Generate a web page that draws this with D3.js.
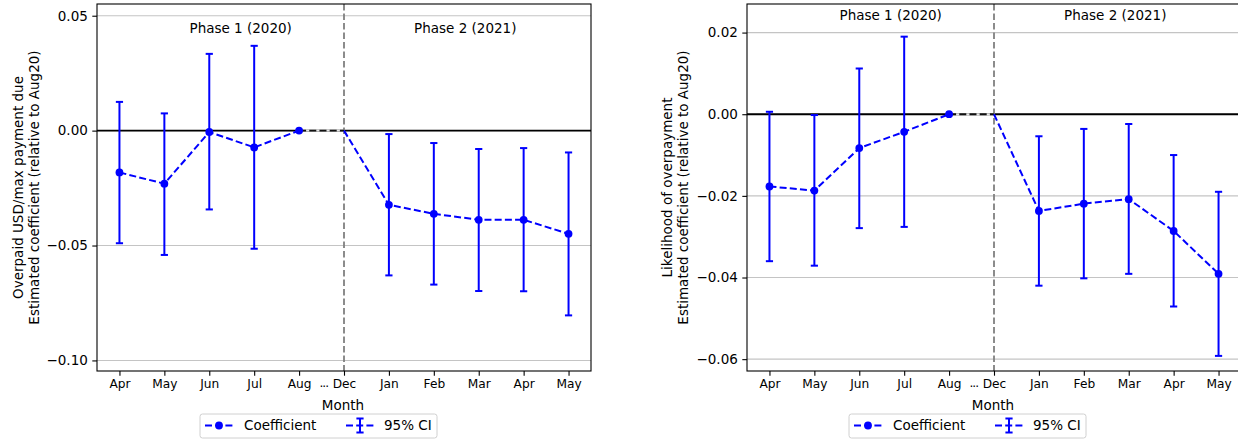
<!DOCTYPE html>
<html>
<head>
<meta charset="utf-8">
<script src="https://cdn.jsdelivr.net/npm/d3@7"></script>
<style>
  html, body { margin: 0; padding: 0; background: #fff; }
  svg { display: block; font-family: "DejaVu Sans", sans-serif; }
</style>
</head>
<body>
<svg id="chart" width="1238" height="442"></svg>
<script>
// ---------------- data ----------------
const months = ["Apr", "May", "Jun", "Jul", "Aug", "Dec", "Jan", "Feb", "Mar", "Apr", "May"];
const phase1Idx = [0, 1, 2, 3, 4];
const decIdx = 5;
const phase2Idx = [6, 7, 8, 9, 10];
const phaseLabels = ["Phase 1 (2020)", "Phase 2 (2021)"];
const phaseLabelX = [2.7, 7.7];

// Left panel: Overpaid USD / max payment due
const leftYLabel = ["Overpaid USD/max payment due", "Estimated coefficient (relative to Aug20)"];
const leftTicks = [0.05, 0.00, -0.05, -0.10];
const leftCoef1 = [-0.0182, -0.0231, -0.0006, -0.0073, 0.0];
const leftLow1  = [-0.0490, -0.0541, -0.0343, -0.0514];
const leftHigh1 = [0.0125, 0.0075, 0.0334, 0.0369];
const leftCoef2 = [-0.0323, -0.0362, -0.0388, -0.0388, -0.0449];
const leftLow2  = [-0.0630, -0.0670, -0.0698, -0.0699, -0.0804];
const leftHigh2 = [-0.0015, -0.0054, -0.0080, -0.0076, -0.0095];
const leftPhaseY = 0.0423;

// Right panel: Likelihood of overpayment
const rightYLabel = ["Likelihood of overpayment", "Estimated coefficient (relative to Aug20)"];
const rightTicks = [0.02, 0.00, -0.02, -0.04, -0.06];
const rightCoef1 = [-0.0177, -0.0187, -0.0083, -0.0043, 0.0];
const rightLow1  = [-0.0360, -0.0371, -0.0279, -0.0276];
const rightHigh1 = [0.0006, -0.0002, 0.0112, 0.0190];
const rightCoef2 = [-0.0237, -0.0219, -0.0208, -0.0286, -0.0391];
const rightLow2  = [-0.0420, -0.0402, -0.0391, -0.0471, -0.0592];
const rightHigh2 = [-0.0054, -0.0036, -0.0024, -0.0100, -0.0190];
const rightPhaseY = 0.0231;

const legendLabels = ["Coefficient", "95% CI"];

// ---------------- drawing ----------------
const svg = d3.select("#chart");
const BLUE = "#0000ff";
const XTICK_FS = 12.2, YTICK_FS = 13.5, LABEL_FS = 13.5;

function panel(opts) {
  const { x0, x1, y0, y1, yDomain, ticks, ylab, ylabX, coef1, low1, high1, coef2, low2, high2, phaseY, legendX } = opts;
  const g = svg.append("g");
  const x = d3.scaleLinear().domain([-0.5, months.length - 0.5]).range([x0, x1]);
  const y = d3.scaleLinear().domain(yDomain).range([y1, y0]);

  // grid
  g.append("g").selectAll("line").data(ticks).join("line")
    .attr("x1", x0).attr("x2", x1)
    .attr("y1", d => y(d)).attr("y2", d => y(d))
    .attr("stroke", "#c4c4c4").attr("stroke-width", 1.1);

  // zero line
  g.append("line").attr("x1", x0).attr("x2", x1).attr("y1", y(0)).attr("y2", y(0))
    .attr("stroke", "#000").attr("stroke-width", 1.9);

  // vertical dashed separator at Dec
  g.append("line").attr("x1", x(decIdx)).attr("x2", x(decIdx)).attr("y1", y0).attr("y2", y1)
    .attr("stroke", "#808080").attr("stroke-width", 1.8).attr("stroke-dasharray", "6.5,3");

  // Aug -> Dec connector (black dashes, light gaps)
  g.append("line").attr("x1", x(4)).attr("x2", x(decIdx)).attr("y1", y(0)).attr("y2", y(0))
    .attr("stroke", "#e6e6e6").attr("stroke-width", 1.9);
  g.append("line").attr("x1", x(4)).attr("x2", x(decIdx)).attr("y1", y(0)).attr("y2", y(0))
    .attr("stroke", "#111").attr("stroke-width", 1.9).attr("stroke-dasharray", "7,3.2");

  // error bars
  const eb = [];
  low1.forEach((v, i) => eb.push({ i: phase1Idx[i], lo: v, hi: high1[i] }));
  low2.forEach((v, i) => eb.push({ i: phase2Idx[i], lo: v, hi: high2[i] }));
  const ebg = g.append("g").attr("stroke", BLUE).attr("stroke-width", 2);
  ebg.selectAll("line.v").data(eb).join("line").attr("class", "v")
    .attr("x1", d => x(d.i)).attr("x2", d => x(d.i)).attr("y1", d => y(d.lo)).attr("y2", d => y(d.hi));
  ebg.selectAll("line.lo").data(eb).join("line").attr("class", "lo")
    .attr("x1", d => x(d.i) - 3.6).attr("x2", d => x(d.i) + 3.6).attr("y1", d => y(d.lo)).attr("y2", d => y(d.lo));
  ebg.selectAll("line.hi").data(eb).join("line").attr("class", "hi")
    .attr("x1", d => x(d.i) - 3.6).attr("x2", d => x(d.i) + 3.6).attr("y1", d => y(d.hi)).attr("y2", d => y(d.hi));

  // coefficient lines
  const line = d3.line().x(d => x(d.i)).y(d => y(d.v));
  const p1 = coef1.map((v, k) => ({ i: phase1Idx[k], v }));
  const p2 = [{ i: decIdx, v: 0 }].concat(coef2.map((v, k) => ({ i: phase2Idx[k], v })));
  [p1, p2].forEach(p => g.append("path").datum(p).attr("d", line)
    .attr("fill", "none").attr("stroke", BLUE).attr("stroke-width", 2).attr("stroke-dasharray", "7,3.2"));
  // markers
  const pts = p1.concat(p2.slice(1));
  g.append("g").selectAll("circle").data(pts).join("circle")
    .attr("cx", d => x(d.i)).attr("cy", d => y(d.v)).attr("r", 3.9).attr("fill", BLUE);

  // phase labels
  g.append("g").selectAll("text").data(phaseLabels).join("text")
    .attr("x", (d, k) => x(phaseLabelX[k])).attr("y", y(phaseY))
    .attr("text-anchor", "middle").attr("font-size", LABEL_FS).text(d => d);

  // spines
  g.append("rect").attr("x", x0).attr("y", y0).attr("width", x1 - x0).attr("height", y1 - y0)
    .attr("fill", "none").attr("stroke", "#000").attr("stroke-width", 1.1);

  // axes
  const xAxis = d3.axisBottom(x).tickValues(d3.range(months.length))
    .tickFormat(i => months[i]).tickSize(4.7).tickPadding(4);
  const xa = g.append("g").attr("transform", `translate(0,${y1})`).call(xAxis);
  const yAxis = d3.axisLeft(y).tickValues(ticks).tickFormat(d3.format(".2f")).tickSize(4.7).tickPadding(4.5);
  const ya = g.append("g").attr("transform", `translate(${x0},0)`).call(yAxis);
  [[xa, XTICK_FS], [ya, YTICK_FS]].forEach(([a, fs]) => {
    a.select(".domain").remove();
    a.selectAll(".tick line").attr("stroke", "#000").attr("stroke-width", 1.1);
    a.selectAll(".tick text").attr("font-size", fs).attr("font-family", "DejaVu Sans").attr("fill", "#000");
  });
  // ellipsis between Aug and Dec
  g.append("text").attr("x", x(4.55)).attr("y", y1 + 19.5).attr("text-anchor", "middle")
    .attr("font-size", XTICK_FS).attr("letter-spacing", -1).text("\u00B7\u00B7\u00B7");

  // x label
  g.append("text").attr("x", (x0 + x1) / 2 - 1).attr("y", y1 + 38.5).attr("text-anchor", "middle")
    .attr("font-size", LABEL_FS).text("Month");

  // y label (two lines)
  const yc = (y0 + y1) / 2;
  ylab.forEach((t, k) => {
    g.append("text").attr("transform", `translate(${ylabX + k * 16},${yc}) rotate(-90)`)
      .attr("text-anchor", "middle").attr("dominant-baseline", "central")
      .attr("font-size", LABEL_FS).text(t);
  });

  // legend
  const lg = g.append("g").attr("transform", `translate(${legendX},414)`);
  lg.append("rect").attr("x", 0).attr("y", 0).attr("width", 237).attr("height", 24).attr("rx", 2.5)
    .attr("fill", "#fff").attr("stroke", "#d0d0d0").attr("stroke-width", 1);
  const hy = 11.5;
  lg.append("line").attr("x1", 5).attr("x2", 33).attr("y1", hy).attr("y2", hy)
    .attr("stroke", BLUE).attr("stroke-width", 2).attr("stroke-dasharray", "7,3.2");
  lg.append("circle").attr("cx", 19).attr("cy", hy).attr("r", 3.9).attr("fill", BLUE);
  lg.append("line").attr("x1", 146).attr("x2", 174).attr("y1", hy).attr("y2", hy)
    .attr("stroke", BLUE).attr("stroke-width", 2).attr("stroke-dasharray", "7,3.2");
  lg.append("line").attr("x1", 160).attr("x2", 160).attr("y1", hy - 7).attr("y2", hy + 7)
    .attr("stroke", BLUE).attr("stroke-width", 2);
  [hy - 7, hy + 7].forEach(cy => lg.append("line").attr("x1", 156.4).attr("x2", 163.6)
    .attr("y1", cy).attr("y2", cy).attr("stroke", BLUE).attr("stroke-width", 2));
  lg.append("text").attr("x", 44).attr("y", 16).attr("font-size", LABEL_FS).text(legendLabels[0]);
  lg.append("text").attr("x", 184).attr("y", 16).attr("font-size", LABEL_FS).text(legendLabels[1]);
}

panel({
  x0: 97, x1: 591, y0: 4, y1: 371, yDomain: [-0.1046, 0.0551], ticks: leftTicks,
  ylab: leftYLabel, ylabX: 18,
  coef1: leftCoef1, low1: leftLow1, high1: leftHigh1,
  coef2: leftCoef2, low2: leftLow2, high2: leftHigh2, phaseY: leftPhaseY, legendX: 200
});
panel({
  x0: 747, x1: 1241, y0: 4, y1: 371, yDomain: [-0.0629, 0.0270], ticks: rightTicks,
  ylab: rightYLabel, ylabX: 667,
  coef1: rightCoef1, low1: rightLow1, high1: rightHigh1,
  coef2: rightCoef2, low2: rightLow2, high2: rightHigh2, phaseY: rightPhaseY, legendX: 849
});
</script>
</body>
</html>
